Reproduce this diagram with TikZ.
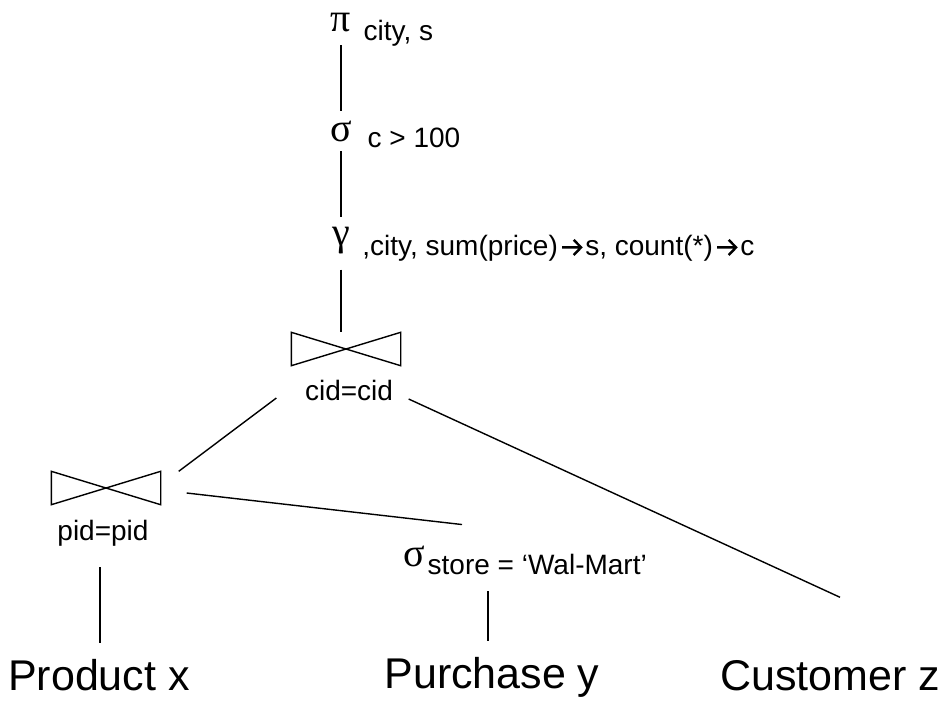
\documentclass[tikz,border=0pt]{standalone}
\usepackage{fontspec}
\setmainfont{Liberation Sans}
\newfontfamily\gk{Liberation Serif}
\usetikzlibrary{calc}
\newcommand{\rarr}{\kern1.5pt\tikz[baseline=0pt]\draw[line width=1.2pt, line join=miter]
  (0pt,3.8pt) -- (9.5pt,3.8pt) (5.8pt,7.6pt) -- (9.5pt,3.8pt) -- (5.8pt,0pt);\kern1.5pt}
\tikzset{
  op/.style={inner sep=0pt, outer ysep=5pt, font=\gk\fontsize{20}{20}\selectfont, anchor=base},
  sub/.style={inner sep=0pt, font=\fontsize{14}{14}\selectfont, anchor=base west},
  cond/.style={inner sep=0pt, font=\fontsize{14}{14}\selectfont, anchor=base},
  rel/.style={inner sep=0pt, font=\fontsize{21.5}{21.5}\selectfont, anchor=base},
  joinbox/.style={inner sep=0pt, minimum width=54pt, minimum height=16pt},
}

\begin{document}
\begin{tikzpicture}[x=0.5pt, y=-0.5pt, line width=0.7pt]
  \useasboundingbox (0,0) rectangle (951,703);
  % operators
  \node[op] (pi) at (341,31) {π};
  \node[sub] (pilbl) at (363,40) {city, s};
  \node[op] (sel) at (341,141) {σ};
  \node[sub] (sellbl) at (367,147) {c > 100};
  \node[op] (gam) at (341,245) {γ};
  \node[sub] (gamlbl) at (362,255) {,city, sum(price)\rarr s, count(*)\rarr c};
  % joins
  \node[joinbox] (cj) at (346,349) {};
  \node[cond] (cjlbl) at (349,400) {cid=cid};
  \node[joinbox] (pj) at (106,488) {};
  \node[cond] (pjlbl) at (103,540) {pid=pid};
  \node[op] (sel2) at (414,566) {σ};
  \node[sub] (sel2lbl) at (427,574) {store = ‘Wal-Mart’};
  % relations
  \node[rel] (prod) at (99,690) {Product x};
  \node[rel] (pur) at (492,688) {Purchase y};
  \node[rel] (cust) at (830,690) {Customer z};
  % bowties
  \draw (cj.north west) -- (cj.south east) -- (cj.north east) -- (cj.south west) -- cycle;
  \draw (pj.north west) -- (pj.south east) -- (pj.north east) -- (pj.south west) -- cycle;
  % edges
  \draw[shorten <=2pt] (pi) -- (sel);
  \draw (sel) -- (gam);
  \draw[shorten <=3pt] (gam) -- (gam |- cj.north);
  \draw ($(cjlbl.base west)+(-28,-2)$) -- ($(pj.north east)+(18,0)$);
  \draw ($(cjlbl.base east)+(15,-1)$) -- ($(cust.north)+(10,-62)$);
  \draw ($(pj.east)+(26,5)$) -- ($(sel2.north)+(48,-11)$);
  \draw ($(pjlbl.base)+(-3,27)$) -- ($(prod.north)+(1,-15)$);
  \draw ($(sel2.south)+(74,15)$) -- ($(pur.north)+(-4,-15)$);
\end{tikzpicture}
\end{document}
